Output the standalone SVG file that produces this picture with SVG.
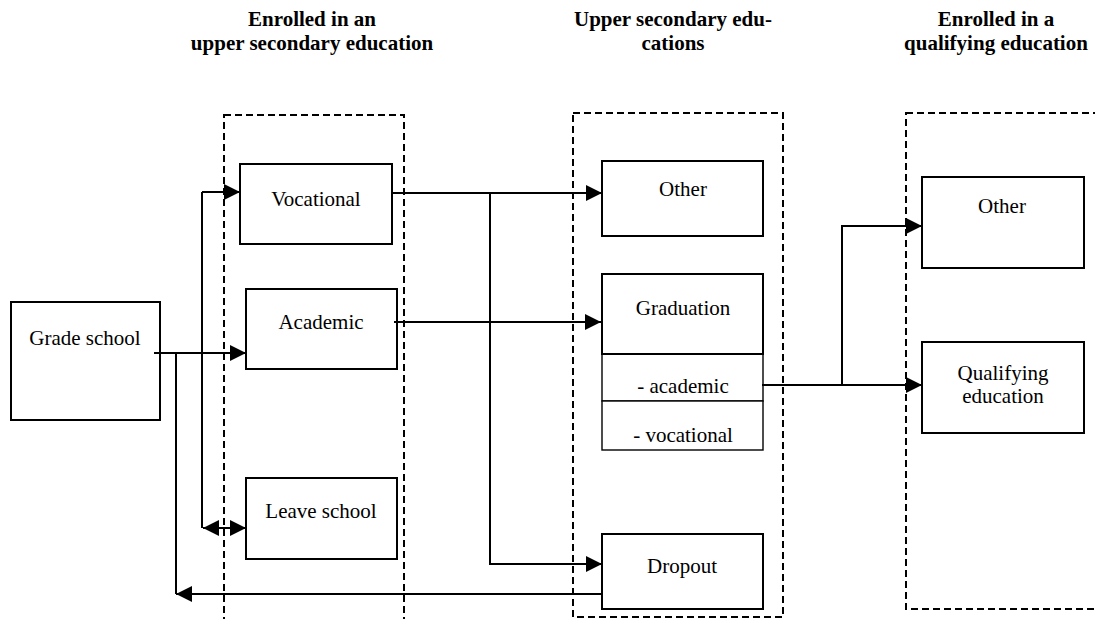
<svg xmlns="http://www.w3.org/2000/svg" width="1095" height="619" viewBox="0 0 1095 619">
<style>
.t{font-family:'Liberation Serif','Times New Roman',Times,'DejaVu Serif',serif;font-size:21px;fill:#000;text-anchor:middle}
.h{font-family:'Liberation Serif','Times New Roman',Times,'DejaVu Serif',serif;font-size:21px;font-weight:bold;fill:#000;text-anchor:middle}
.box{fill:#fff;stroke:#000;stroke-width:2}
.cell{fill:#fff;stroke:#000;stroke-width:1.4}
.dash{fill:none;stroke:#000;stroke-width:2;stroke-dasharray:7,4}
.ln{fill:none;stroke:#000;stroke-width:2}
</style>
<defs>
<marker id="ah" markerUnits="userSpaceOnUse" markerWidth="16" markerHeight="16" viewBox="0 0 15 15" refX="15" refY="7.5" orient="auto-start-reverse">
<path d="M0,0 L15,7.5 L0,15 z" fill="#000"/>
</marker>
</defs>
<rect width="1095" height="619" fill="#fff"/>
<g id="headers">
<text class="h" x="312" y="26">Enrolled in an</text>
<text class="h" x="312" y="50">upper secondary education</text>
<text class="h" x="673" y="26">Upper secondary edu-</text>
<text class="h" x="673" y="50">cations</text>
<text class="h" x="996" y="26">Enrolled in a</text>
<text class="h" x="996" y="50">qualifying education</text>
</g>
<g id="groups">
<rect class="dash" x="224" y="115" width="180" height="520"/>
<rect class="dash" x="573" y="113" width="210" height="504"/>
<rect class="dash" x="906" y="113" width="220" height="496"/>
</g>
<g id="grade-school">
<rect class="box" x="11" y="302" width="149" height="118"/>
<text class="t" x="85" y="345">Grade school</text>
</g>
<g id="vocational">
<rect class="box" x="240" y="164" width="152" height="80"/>
<text class="t" x="316" y="206">Vocational</text>
</g>
<g id="academic">
<rect class="box" x="246" y="289" width="151" height="80"/>
<text class="t" x="321" y="329">Academic</text>
</g>
<g id="leave-school">
<rect class="box" x="246" y="478" width="151" height="81"/>
<text class="t" x="321" y="518">Leave school</text>
</g>
<g id="other-mid">
<rect class="box" x="602" y="161" width="161" height="75"/>
<text class="t" x="683" y="196">Other</text>
</g>
<g id="graduation">
<rect class="cell" x="602" y="354" width="161" height="47"/>
<rect class="cell" x="602" y="401" width="161" height="49"/>
<rect class="box" x="602" y="274" width="161" height="80"/>
<text class="t" x="683" y="315">Graduation</text>
<text class="t" x="683" y="393">- academic</text>
<text class="t" x="683" y="442">- vocational</text>
</g>
<g id="dropout">
<rect class="box" x="602" y="534" width="161" height="75"/>
<text class="t" x="682" y="573">Dropout</text>
</g>
<g id="other-right">
<rect class="box" x="922" y="177" width="162" height="91"/>
<text class="t" x="1002" y="213">Other</text>
</g>
<g id="qualifying">
<rect class="box" x="922" y="342" width="162" height="91"/>
<text class="t" x="1003" y="380">Qualifying</text>
<text class="t" x="1003" y="403">education</text>
</g>
<g id="connectors">
<path class="ln" d="M154,353 H246" marker-end="url(#ah)"/>
<path class="ln" d="M202,192 V528"/>
<path class="ln" d="M202,192 H240" marker-end="url(#ah)"/>
<path class="ln" d="M203,528 H246" marker-start="url(#ah)" marker-end="url(#ah)"/>
<path class="ln" d="M176,353 V594"/>
<path class="ln" d="M603,594 H176" marker-end="url(#ah)"/>
<path class="ln" d="M393,193 H602" marker-end="url(#ah)"/>
<path class="ln" d="M394,322 H601" marker-end="url(#ah)"/>
<path class="ln" d="M490,193 V564 H602" marker-end="url(#ah)"/>
<path class="ln" d="M762,385 H922" marker-end="url(#ah)"/>
<path class="ln" d="M842,385 V226 H922" marker-end="url(#ah)"/>
</g>
</svg>
